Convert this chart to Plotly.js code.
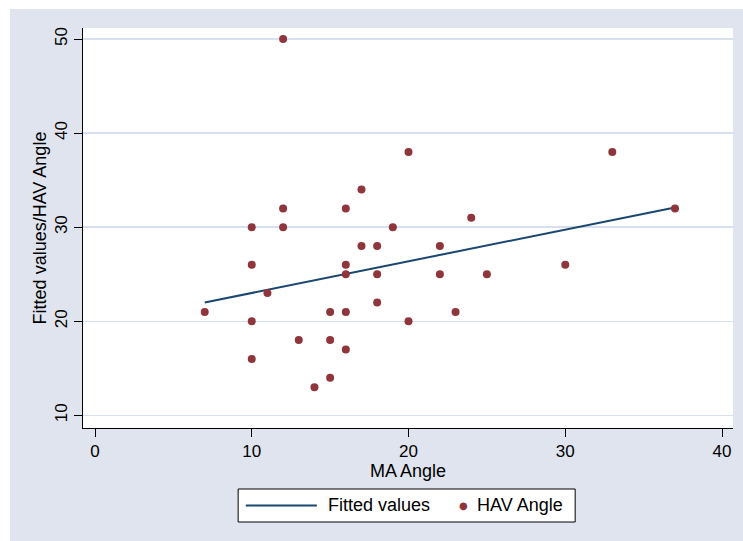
<!DOCTYPE html>
<html>
<head>
<meta charset="utf-8">
<script src="https://cdn.plot.ly/plotly-3.0.1.min.js"></script>
<style>
  html, body { margin: 0; padding: 0; background: #ffffff; }
  #chart { position: absolute; left: 10px; top: 9px; width: 733px; height: 532px; }
</style>
</head>
<body>
<div id="chart"></div>
<script>
// MA angle (x) and HAV angle (y) for each foot
const maAngle  = [7, 10, 10, 10, 10, 11, 12, 12, 12, 13, 14, 15, 15, 15, 16, 16, 16, 16, 16,
                  17, 17, 18, 18, 18, 19, 20, 20, 22, 22, 23, 24, 25, 30, 33, 37];
const havAngle = [21, 30, 26, 20, 16, 23, 50, 32, 30, 18, 13, 21, 18, 14, 32, 26, 25, 21, 17,
                  34, 28, 28, 25, 22, 30, 38, 20, 28, 25, 21, 31, 25, 26, 38, 32];

// Linear fit of HAV angle on MA angle, over the observed MA range
const fittedX = [7, 37];
const fittedY = [22.0, 32.1];

const xTicks = [0, 10, 20, 30, 40];
const yTicks = [10, 20, 30, 40, 50];

const legendLabels = ['Fitted values', 'HAV Angle'];

const navy = '#1a476f';
const maroon = '#90353b';
const regionGray = '#dfe4ee';
const gridBlue = '#d8dfee';
const font = 'Liberation Sans, Arial, Helvetica, sans-serif';

const traces = [
  {
    type: 'scatter', mode: 'lines', name: legendLabels[0],
    x: fittedX, y: fittedY,
    line: { color: navy, width: 2 },
    hoverinfo: 'x+y'
  },
  {
    type: 'scatter', mode: 'markers', name: legendLabels[1],
    x: maAngle, y: havAngle,
    marker: { color: maroon, size: 8, line: { width: 0 } },
    hoverinfo: 'x+y'
  }
];

// Legend box drawn below the plot (paper coordinates)
const legY = -0.1935;
const shapes = [
  { type: 'rect', xref: 'paper', yref: 'paper', x0: 0.2387, x1: 0.7572, y0: -0.235, y1: -0.1525,
    line: { color: '#000000', width: 1 }, fillcolor: '#ffffff' },
  { type: 'line', xref: 'paper', yref: 'paper', x0: 0.2505, x1: 0.3598, y0: legY, y1: legY,
    line: { color: navy, width: 2 } }
];
const annotations = [
  { xref: 'paper', yref: 'paper', x: 0.3740, y: legY, xanchor: 'left', yanchor: 'middle',
    text: legendLabels[0], showarrow: false, font: { family: font, size: 18, color: '#000' } },
  { xref: 'paper', yref: 'paper', x: 0.5847, y: legY, xanchor: 'center', yanchor: 'middle',
    text: '●', showarrow: false, font: { family: 'DejaVu Sans, sans-serif', size: 10, color: maroon } },
  { xref: 'paper', yref: 'paper', x: 0.6035, y: legY, xanchor: 'left', yanchor: 'middle',
    text: legendLabels[1], showarrow: false, font: { family: font, size: 18, color: '#000' } }
];

const layout = {
  width: 733, height: 532,
  margin: { l: 73, r: 10, t: 19, b: 113 },
  paper_bgcolor: regionGray,
  plot_bgcolor: '#ffffff',
  showlegend: false,
  font: { family: font, color: '#000' },
  xaxis: {
    range: [-0.7656, 40.70],
    tickmode: 'array', tickvals: xTicks,
    ticks: 'outside', ticklen: 8, tickwidth: 1, tickcolor: '#000',
    showline: true, linecolor: '#000', linewidth: 1,
    showgrid: false, zeroline: false,
    tickfont: { family: font, size: 17, color: '#000' },
    title: { text: 'MA Angle', font: { family: font, size: 18, color: '#000' }, standoff: 2 }
  },
  yaxis: {
    range: [8.66, 51.17],
    tickmode: 'array', tickvals: yTicks,
    tickangle: -90,
    ticks: 'outside', ticklen: 8, tickwidth: 1, tickcolor: '#000',
    showline: true, linecolor: '#000', linewidth: 1,
    showgrid: true, gridcolor: gridBlue, gridwidth: 1.5,
    zeroline: false,
    tickfont: { family: font, size: 17, color: '#000' },
    title: { text: 'Fitted values/HAV Angle', font: { family: font, size: 18, color: '#000' }, standoff: 0 }
  },
  shapes: shapes,
  annotations: annotations
};

Plotly.newPlot('chart', traces, layout, { displayModeBar: false, staticPlot: true });
</script>
</body>
</html>
